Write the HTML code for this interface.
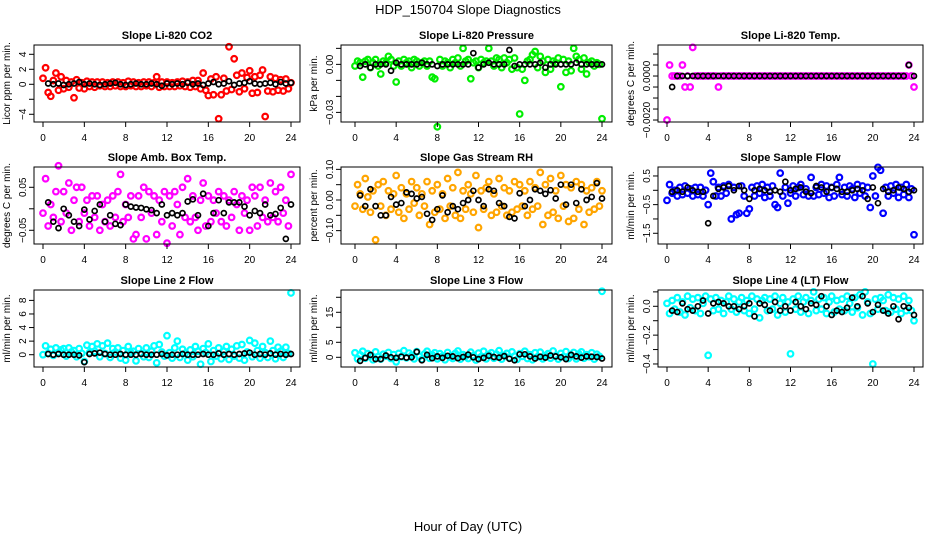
<!DOCTYPE html>
<html><head><meta charset="utf-8"><style>
html,body{margin:0;padding:0;background:#fff;}
svg{display:block;font-family:"Liberation Sans",sans-serif;}
</style></head><body>
<svg id="chart" width="936" height="540" viewBox="0 0 936 540" xmlns="http://www.w3.org/2000/svg">
<rect x="0" y="0" width="936" height="540" fill="#fff"/>
<text x="468" y="14" text-anchor="middle" font-size="13">HDP_150704  Slope Diagnostics</text>
<text x="468" y="531" text-anchor="middle" font-size="13">Hour of Day (UTC)</text>
</svg>
<script>
const hourTicks=[0,4,8,12,16,20,24];
const co2Col=[0.8,2.2,-1.1,-1.6,0.5,1.5,-0.8,1.0,-0.6,0.5,-0.4,0.3,-1.8,0.6,-0.5,0.2,-0.6,0.4,-0.3,0.3,-0.4,0.3,-0.2,0.3,-0.3,0.2,-0.3,0.3,-0.2,0.3,-0.3,0.2,-0.3,0.4,-0.2,0.3,-0.3,0.2,-0.3,0.3,-0.2,0.3,-0.3,0.2,1.0,-0.4,0.3,-0.3,0.3,-0.3,0.2,-0.3,0.3,-0.2,0.4,-0.3,0.3,-0.4,0.5,-0.3,0.5,-0.6,1.5,-0.8,-1.5,0.7,-1.4,1.0,-4.6,-1.4,0.8,-0.9,5.0,-0.7,3.4,1.2,-1.0,1.5,-0.6,0.9,1.8,-1.2,1.0,-1.1,1.2,1.9,-4.3,-0.9,1.0,-1.0,0.8,-0.8,0.6,-0.9,0.7,-0.6,0.2];
const co2Blk=[0.1,0,0.1,-0.1,0,0.1,0.3,0,0.1,0,-0.1,0,0.1,0.2,0,-0.1,0,0.1,0,0,0.1,0,-0.2,0.1,0,0.1,0,0.2,0,0.1,-0.1,0.1,0.3,0,0.1,0.4,-0.1,0.1,0.2,0.4,0.1,0,0.1,0.2,0,0.3,0.1,0.2];
const presCol=[-0.001,0.002,0.001,-0.008,0.002,0.003,-0.002,0.001,0.003,-0.001,-0.006,0.002,0.001,0.005,0.003,-0.001,-0.011,0.002,-0.001,0.003,0.001,0.002,-0.002,0.003,0.002,-0.001,0.001,0.002,-0.001,0.002,-0.008,-0.009,-0.039,0.003,-0.001,0.002,0.001,-0.002,0.003,0.001,0.004,-0.001,0.010,0.002,0.003,-0.009,0.001,0.002,-0.002,0.003,0.001,0.002,0.010,0.002,-0.001,0.004,0.003,-0.002,0.004,0.001,0.003,-0.003,0.004,-0.002,-0.031,-0.003,-0.010,0.002,0.003,0.006,0.008,-0.002,0.005,0.002,-0.005,0.003,-0.003,0.002,0.001,0.004,-0.014,0.003,-0.005,0.002,-0.004,0.010,0.005,0.003,-0.003,0.004,-0.006,0.001,0.002,-0.001,0.001,0.000,-0.034];
const presBlk=[-0.001,0,-0.002,0,0,0,-0.004,0.001,0,0,0,0,0.001,0,0,-0.001,0,0,0,0,0,0,0.007,-0.002,0,0.001,0,0,0,0.009,-0.001,0,0,0,0,0.001,-0.002,0,0,0,0,0,0.001,0,0,0,0,0];
const tempCol=[-0.002,0.0005,0,0,0,0,0.0005,-0.0005,0,-0.0005,0.0013,0,0,0,0,0,0,0,0,0,-0.0005,0,0,0,0,0,0,0,0,0,0,0,0,0,0,0,0,0,0,0,0,0,0,0,0,0,0,0,0,0,0,0,0,0,0,0,0,0,0,0,0,0,0,0,0,0,0,0,0,0,0,0,0,0,0,0,0,0,0,0,0,0,0,0,0,0,0,0,0,0,0,0,0,0,0.0005,0,-0.0005];
const tempBlk=[-0.0005,0,0,0,0,0,0,0,0,0,0,0,0,0,0,0,0,0,0,0,0,0,0,0,0,0,0,0,0,0,0,0,0,0,0,0,0,0,0,0,0,0,0,0,0,0,0.0005,0];
const ambCol=[-0.01,0.07,-0.04,0.01,-0.02,0.04,0.10,-0.03,0.04,-0.01,0.06,-0.05,0.02,0.05,-0.03,0.05,-0.01,0.02,-0.04,0.03,-0.02,0.03,-0.05,0.01,-0.03,0.02,-0.04,0.03,-0.02,0.04,0.08,-0.03,0.01,-0.02,0.03,-0.07,-0.06,0.03,-0.02,0.05,-0.07,0.04,-0.01,0.03,-0.06,0.02,-0.03,0.04,-0.08,0.03,-0.04,0.04,0.01,-0.06,0.05,-0.02,0.07,-0.03,0.03,-0.02,-0.05,0.02,0.06,-0.04,0.03,-0.03,0.02,-0.01,0.04,-0.03,0.03,-0.04,0.02,-0.02,0.04,0.01,-0.05,0.03,-0.01,0.02,-0.05,0.05,0.03,-0.04,0.05,-0.02,0.02,-0.03,0.06,-0.02,0.04,-0.03,0.05,-0.01,0.02,-0.04,0.08];
const ambBlk=[0.015,-0.03,-0.045,0.0,-0.015,-0.03,-0.04,-0.002,-0.025,-0.005,0.01,-0.03,-0.015,-0.035,-0.038,0.01,0.005,0.003,0.002,-0.001,-0.003,-0.01,0.01,-0.015,-0.01,-0.015,-0.01,0.017,0.022,-0.015,0.035,-0.04,-0.01,0.02,-0.01,0.015,0.015,0.015,0.005,-0.015,-0.005,-0.01,0.01,-0.015,-0.012,0.002,-0.07,0.01];
const rhCol=[-0.02,0.05,0.02,-0.03,0.07,0.01,-0.04,0.03,-0.13,0.05,-0.02,0.06,-0.05,0.03,-0.03,0.02,0.08,-0.04,0.04,-0.06,0.02,-0.03,0.06,-0.01,0.04,-0.05,0.02,-0.02,0.06,-0.08,0.03,-0.04,0.05,-0.03,0.02,-0.06,0.07,-0.02,0.04,-0.05,0.09,-0.06,0.03,-0.03,0.05,0.02,-0.04,0.08,-0.09,0.03,-0.03,0.04,0.06,-0.05,0.02,-0.04,0.07,-0.02,0.04,-0.05,0.03,-0.04,0.06,-0.03,0.05,-0.02,0.03,-0.05,0.06,-0.03,0.04,-0.02,0.09,-0.08,0.05,-0.05,0.07,-0.04,0.03,-0.06,0.08,-0.02,0.05,-0.07,0.04,-0.06,0.06,-0.03,0.05,-0.08,0.03,-0.04,0.04,-0.03,0.06,-0.02,0.03];
const rhBlk=[0.015,-0.02,0.035,-0.02,-0.05,-0.05,0.01,-0.015,-0.01,0.025,0.02,0.005,0.01,-0.045,-0.065,-0.03,0.015,-0.04,-0.02,-0.03,-0.01,0.0,0.03,0.0,-0.02,0.035,0.03,-0.01,-0.02,-0.055,-0.06,0.022,-0.02,0.0,0.035,0.03,0.02,0.032,0.005,0.05,-0.015,0.05,-0.01,0.035,0.0,0.01,0.055,0.005];
const flowCol=[-0.35,0.2,-0.1,0.0,-0.2,0.1,-0.15,0.15,-0.1,0.05,-0.2,0.1,-0.15,0.1,-0.2,0.0,-0.5,0.6,0.3,-0.2,0.1,-0.2,0.15,-0.1,0.2,-1.0,0.1,-0.85,-0.8,0.15,-0.2,-0.8,-0.65,0.1,-0.2,0.15,-0.1,0.2,-0.25,0.1,-0.2,0.15,-0.5,-0.6,0.6,-0.2,0.1,-0.45,-0.1,0.15,-0.2,0.1,0.2,-0.15,0.05,-0.2,0.45,-0.2,0.1,-0.15,0.2,-0.1,0.15,-0.25,0.1,-0.2,0.2,0.45,-0.15,0.1,-0.2,0.15,0.05,-0.25,0.2,-0.1,0.15,-0.2,0.1,-0.6,0.5,-0.2,0.8,0.7,-0.8,0.1,-0.2,0.15,-0.1,0.2,-0.25,0.1,-0.15,0.2,-0.25,0.05,-1.55];
const flowBlk=[-0.05,0.0,-0.05,0.1,0.0,-0.05,-0.05,-1.15,-0.2,0.05,0.1,0.15,0.0,0.15,0.0,-0.3,0.0,0.05,0.0,-0.05,0.0,-0.05,0.3,0.0,0.05,0.1,-0.05,-0.1,0.15,0.1,-0.05,0.1,0.05,-0.05,-0.05,0.0,0.05,0.0,-0.3,0.1,-0.45,0.05,-0.05,0.0,0.1,0.05,-0.05,0.0];
const l2Col=[0.0,1.3,0.2,0.8,-0.1,1.0,0.3,0.7,0.9,-0.2,1.0,0.4,0.6,-0.3,0.9,0.2,-1.0,1.4,0.3,1.2,0.5,1.6,-0.3,1.3,0.2,1.7,-0.4,0.9,0.4,1.0,-0.5,0.6,-0.8,1.2,0.3,0.5,-0.9,0.9,0.2,-0.3,1.0,-0.4,0.5,1.3,-1.2,1.5,0.4,-0.2,2.8,0.3,-0.5,1.0,2.0,-0.4,0.8,0.2,-0.8,0.7,-0.3,1.2,0.5,-1.4,0.9,0.3,1.6,-1.0,0.6,-0.2,1.0,-0.6,0.5,1.2,-0.7,0.8,-0.2,1.3,-0.5,1.5,-0.8,0.4,2.1,-0.3,1.7,0.6,-0.5,1.2,0.3,-0.4,2.0,0.6,-0.6,1.1,0.5,-0.4,1.1,0.2,9.1];
const l2Blk=[0.1,0.0,0.1,0.0,0.0,0.0,-0.1,-1.1,0.1,0.2,0.3,0.1,0.0,0.0,0.1,0.0,0.0,0.0,0.1,0.0,0.0,0.0,0.1,-0.1,0.0,0.0,0.1,0.0,0.0,0.0,0.1,0.0,0.0,0.2,0.0,0.1,0.0,0.1,0.2,0.3,0.0,0.1,0.0,0.2,0.0,0.1,0.0,0.1];
const l3Col=[1.5,-0.5,0.8,2.0,-0.3,1.2,0.5,-0.8,1.8,0.2,-0.6,1.0,0.4,1.6,-0.4,0.9,-1.5,1.3,0.2,2.2,-0.2,1.4,0.6,-0.5,1.9,0.3,-0.7,1.1,2.0,-0.3,0.8,1.5,-0.5,1.2,0.4,-0.8,1.6,0.1,-0.4,1.3,2.1,-0.6,0.9,0.3,-0.4,1.7,0.5,-0.9,1.4,0.2,2.0,-0.5,0.8,1.5,-0.3,1.0,2.2,-0.6,0.6,1.3,-0.2,1.8,0.4,-0.7,1.2,0.3,2.0,-0.4,0.9,-0.8,1.5,0.2,1.7,-0.5,0.6,1.2,-0.3,2.1,0.4,-0.6,1.3,0.2,1.9,-0.4,0.7,1.6,-0.5,1.1,1.8,-0.3,0.9,0.2,1.5,-0.6,1.0,0.3,22.0];
const l3Blk=[-1.2,-0.2,0.8,-0.6,-0.6,0.6,0.0,-0.2,0.2,-0.1,0.0,1.8,-1.0,0.8,-0.3,0.3,-0.2,0.5,0.3,-0.3,0.1,0.9,0.0,-0.6,-0.2,0.5,0.1,-0.1,0.4,-0.5,-1.0,1.0,1.0,0.3,-0.4,0.2,-0.1,0.6,0.3,0.0,-0.6,0.8,0.3,-0.1,0.3,0.2,0.1,-0.4];
const l4Col=[0.02,-0.05,0.04,-0.02,0.06,-0.04,0.03,-0.06,0.07,-0.01,0.05,-0.03,0.06,-0.05,0.02,0.07,-0.34,0.05,-0.03,0.06,-0.02,0.04,-0.05,0.03,0.07,-0.02,0.05,-0.04,0.03,0.06,-0.03,0.04,-0.05,0.07,-0.02,0.05,-0.08,0.04,0.06,-0.03,0.05,-0.02,0.07,-0.06,0.02,0.06,-0.04,0.03,-0.33,0.05,-0.02,0.07,-0.04,0.03,0.06,-0.05,0.04,0.10,-0.03,0.05,-0.02,0.06,-0.05,0.03,0.07,-0.04,0.04,-0.02,0.05,-0.03,0.07,0.02,-0.04,0.06,-0.01,0.08,-0.06,0.10,0.03,-0.05,-0.40,0.05,-0.02,0.06,0.04,-0.03,0.08,-0.04,0.06,-0.02,0.05,-0.05,0.07,-0.03,0.04,-0.03,-0.10];
const l4Blk=[-0.03,-0.04,0.02,-0.02,-0.03,0.0,0.04,-0.05,0.02,0.03,0.02,0.0,0.0,-0.02,0.0,0.02,-0.07,0.02,0.01,-0.03,0.03,-0.03,0.0,-0.03,0.03,0.0,-0.02,0.02,0.01,0.07,0.0,-0.06,-0.03,-0.04,-0.01,0.06,0.0,0.07,0.02,-0.04,0.01,-0.03,-0.05,0.0,-0.09,0.0,-0.01,-0.06];

const co2Ticks=[-4,-2,0,2,4], co2Labels=["−4","","0","2","4"];
const presTicks=[-0.03,-0.02,-0.01,0,0.01], presLabels=["−0.03","","","0.00",""];
const tempTicks=[-0.002,-0.0015,-0.001,-0.0005,0,0.0005,0.001], tempLabels=["−0.0020","","","","0.0000","",""];
const ambTicks=[-0.05,0,0.05], ambLabels=["−0.05","","0.05"];
const rhTicks=[-0.1,-0.05,0,0.05,0.1], rhLabels=["−0.10","","0.00","","0.10"];
const flowTicks=[-1.5,-1,-0.5,0,0.5], flowLabels=["−1.5","","−0.5","","0.5"];
const l2Ticks=[0,2,4,6,8], l2Labels=["0","2","4","6","8"];
const l3Ticks=[0,5,10,15,20], l3Labels=["0","5","","15",""];
const l4Ticks=[-0.4,-0.3,-0.2,-0.1,0,0.1], l4Labels=["−0.4","","−0.2","","0.0",""];

const NS="http://www.w3.org/2000/svg";
const svg=document.getElementById('chart');
function mk(tag,attrs,parent){const e=document.createElementNS(NS,tag);for(const k in attrs)e.setAttribute(k,attrs[k]);(parent||svg).appendChild(e);return e;}
const cols=[{l:34,r:300,x0:43,x24:291},{l:341,r:612,x0:355,x24:602},{l:658,r:923,x0:667,x24:914}];
const rows=[{t:45,b:122},{t:167,b:244},{t:290,b:367}];
const panels=[
 {key:'co2',title:'Slope Li-820 CO2',ylab:'Licor ppm per min.',c:0,r:0,ymin:-5.03,ymax:5.24,col:'#ff0000',cv:co2Col,bv:co2Blk,ticks:co2Ticks,labels:co2Labels},
 {key:'pressure',title:'Slope Li-820 Pressure',ylab:'kPa per min.',c:1,r:0,ymin:-0.036,ymax:0.0121,col:'#00ee00',cv:presCol,bv:presBlk,ticks:presTicks,labels:presLabels},
 {key:'temp',title:'Slope Li-820 Temp.',ylab:'degrees C per min.',c:2,r:0,ymin:-0.00209,ymax:0.00141,col:'#ff00ff',cv:tempCol,bv:tempBlk,ticks:tempTicks,labels:tempLabels},
 {key:'amb-temp',title:'Slope Amb. Box Temp.',ylab:'degrees C per min.',c:0,r:1,ymin:-0.0819,ymax:0.0972,col:'#ff00ff',cv:ambCol,bv:ambBlk,ticks:ambTicks,labels:ambLabels},
 {key:'rh',title:'Slope Gas Stream RH',ylab:'percent per min.',c:1,r:1,ymin:-0.1436,ymax:0.1077,col:'#ffa500',cv:rhCol,bv:rhBlk,ticks:rhTicks,labels:rhLabels},
 {key:'sample-flow',title:'Slope Sample Flow',ylab:'ml/min per min.',c:2,r:1,ymin:-1.874,ymax:0.813,col:'#0000ff',cv:flowCol,bv:flowBlk,ticks:flowTicks,labels:flowLabels},
 {key:'line2',title:'Slope Line 2 Flow',ylab:'ml/min per min.',c:0,r:2,ymin:-1.81,ymax:9.53,col:'#00ffff',cv:l2Col,bv:l2Blk,ticks:l2Ticks,labels:l2Labels},
 {key:'line3',title:'Slope Line 3 Flow',ylab:'ml/min per min.',c:1,r:2,ymin:-3.23,ymax:22.43,col:'#00ffff',cv:l3Col,bv:l3Blk,ticks:l3Ticks,labels:l3Labels},
 {key:'line4',title:'Slope Line 4 (LT) Flow',ylab:'ml/min per min.',c:2,r:2,ymin:-0.421,ymax:0.113,col:'#00ffff',cv:l4Col,bv:l4Blk,ticks:l4Ticks,labels:l4Labels}
];
panels.forEach(p=>{
 const C=cols[p.c],R=rows[p.r];
 const g=mk('g',{});
 
 
 const xs=h=>C.x0+(C.x24-C.x0)*h/24;
 const ys=v=>R.t+(p.ymax-v)/(p.ymax-p.ymin)*(R.b-R.t);
 const t=mk('text',{x:(C.l+C.r)/2,y:R.t-6,'text-anchor':'middle','font-size':'11','font-weight':'bold'},g);
 t.textContent=p.title;
 
 
 const yt=mk('text',{x:0,y:0,'text-anchor':'middle','font-size':'10',transform:`translate(${C.l-24},${(R.t+R.b)/2}) rotate(-90)`},g);
 yt.textContent=p.ylab;
 
 
 const pts=mk('g',{},g);
 
 
 const n=p.cv.length;
 p.cv.forEach((v,i)=>{
  const c=mk('circle',{cx:xs(i*24/(n-1)),cy:ys(v),r:2.8,fill:'none',stroke:p.col,'stroke-width':2.2},pts);
  
  
 });
 p.bv.forEach((v,i)=>{
  const c=mk('circle',{cx:xs((i+1)*0.5),cy:ys(v),r:2.5,fill:'none',stroke:'#000','stroke-width':1.7},pts);
  
  
 });
 const box=mk('rect',{x:C.l,y:R.t,width:C.r-C.l,height:R.b-R.t,fill:'none',stroke:'#000','stroke-width':1},g);
 
 
 hourTicks.forEach(h=>{
  mk('line',{x1:xs(h),x2:xs(h),y1:R.b,y2:R.b+5,stroke:'#000'},g);
  const tl=mk('text',{x:xs(h),y:R.b+19,'text-anchor':'middle','font-size':'10'},g);
  tl.textContent=String(h);
  
  
 });
 mk('line',{x1:xs(0),x2:xs(24),y1:R.b,y2:R.b,stroke:'#000'},g);
 p.ticks.forEach((v,i)=>{
  const y=ys(v);
  mk('line',{x1:C.l-5,x2:C.l,y1:y,y2:y,stroke:'#000'},g);
  if(p.labels[i]){
   const tl=mk('text',{x:0,y:0,'text-anchor':'middle','font-size':'10',transform:`translate(${C.l-8},${y}) rotate(-90)`},g);
   tl.textContent=p.labels[i];
   
   
  }
 });
});
</script>
</body></html>
